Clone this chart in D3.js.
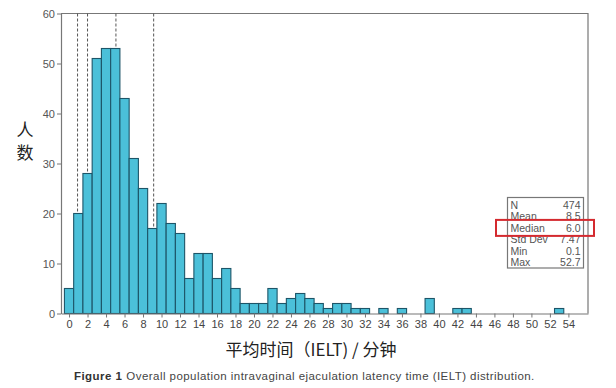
<!DOCTYPE html>
<html>
<head>
<meta charset="utf-8">
<script src="https://cdn.jsdelivr.net/npm/d3@7"></script>
<style>
  html, body { margin: 0; padding: 0; background: #ffffff; }
  svg { display: block; }
</style>
</head>
<body>
<svg id="chart" width="616" height="388"></svg>
<script>
// Histogram bins (minutes, bin centred on the integer) and counts
const bins = [0,1,2,3,4,5,6,7,8,9,10,11,12,13,14,15,16,17,18,19,20,21,22,23,24,25,26,27,28,29,30,31,32,34,36,39,42,43,53];
const counts = [5,20,28,51,53,53,43,31,25,17,22,18,16,7,12,12,7,9,5,2,2,2,5,2,3,4,3,2,1,2,2,1,1,1,1,3,1,1,1];
const xTicks = [0,2,4,6,8,10,12,14,16,18,20,22,24,26,28,30,32,34,36,38,40,42,44,46,48,50,52,54];
const yTicks = [0,10,20,30,40,50,60];
const dashedLines = [0.92, 2.0, 5.07, 9.15];
const statLabels = ["N","Mean","Median","Std Dev","Min","Max"];
const statValues = ["474","8.5","6.0","7.47","0.1","52.7"];
const highlightedStat = "Median";

const svg = d3.select("#chart");
const x = d3.scaleLinear().domain([-0.87, 56.12]).range([61, 588]);
const y = d3.scaleLinear().domain([0, 60]).range([313.5, 13.5]);
const countAt = v => { const i = bins.indexOf(Math.round(v)); return i < 0 ? 0 : counts[i]; };

// frame (top and right)
svg.append("path")
  .attr("d", `M${x.range()[0]},${y(60)}H${x.range()[1]}V${y(0)}`)
  .attr("fill", "none").attr("stroke", "#777").attr("stroke-width", 1.2);

// bars
svg.append("g").selectAll("rect").data(bins).join("rect")
  .attr("x", d => x(d - 0.5))
  .attr("width", d => x(d + 0.5) - x(d - 0.5))
  .attr("y", (d, i) => y(counts[i]))
  .attr("height", (d, i) => y(0) - y(counts[i]))
  .attr("fill", "#4bc0d9")
  .attr("stroke", "#1d5568")
  .attr("stroke-width", 1.1);

// dashed reference lines
svg.append("g").selectAll("line").data(dashedLines).join("line")
  .attr("x1", d => x(d)).attr("x2", d => x(d))
  .attr("y1", y(60)).attr("y2", d => y(countAt(d)))
  .attr("stroke", "#555").attr("stroke-width", 1)
  .attr("stroke-dasharray", "3,2");

// x axis
const xAxis = svg.append("g").attr("transform", `translate(0,${y(0)})`)
  .call(d3.axisBottom(x).tickValues(xTicks).tickSize(4).tickPadding(3).tickSizeOuter(0));
xAxis.select(".domain").attr("stroke", "#777").attr("stroke-width", 1.2);
xAxis.selectAll(".tick line").attr("stroke", "#777");
xAxis.selectAll("text").attr("font-family", "Liberation Sans, Arial, sans-serif")
  .attr("font-size", 11).attr("fill", "#444");

// y axis
const yAxis = svg.append("g").attr("transform", `translate(${x.range()[0]},0)`)
  .call(d3.axisLeft(y).tickValues(yTicks).tickSize(4).tickPadding(2).tickSizeOuter(0));
yAxis.select(".domain").attr("stroke", "#777").attr("stroke-width", 1.2);
yAxis.selectAll(".tick line").attr("stroke", "#777");
yAxis.selectAll("text").attr("font-family", "Liberation Sans, Arial, sans-serif")
  .attr("font-size", 11).attr("fill", "#555");

// y label (vertical stacked characters)
svg.append("text").attr("x", 25).attr("y", 136).attr("text-anchor", "middle")
  .attr("font-family", "Noto Sans CJK SC, sans-serif").attr("font-size", 17).attr("fill", "#222").text("人");
svg.append("text").attr("x", 25).attr("y", 159).attr("text-anchor", "middle")
  .attr("font-family", "Noto Sans CJK SC, sans-serif").attr("font-size", 17).attr("fill", "#222").text("数");

// x title
svg.append("text").attr("x", 311).attr("y", 356).attr("text-anchor", "middle")
  .attr("font-family", "Noto Sans CJK SC, sans-serif").attr("font-size", 17).attr("fill", "#222")
  .text("平均时间（IELT) / 分钟");

// caption
const cap = svg.append("text").attr("x", 74).attr("y", 380)
  .attr("font-family", "Liberation Sans, Arial, sans-serif").attr("font-size", 11.5)
  .attr("letter-spacing", 0.45).attr("fill", "#444");
cap.append("tspan").attr("font-weight", "bold").attr("fill", "#333").text("Figure 1");
cap.append("tspan").attr("dx", 4).text("Overall population intravaginal ejaculation latency time (IELT) distribution.");

// stats box
const boxL = 507.5, boxR = 583.5, boxT = 197.5, boxB = 268;
svg.append("rect").attr("x", boxL).attr("y", boxT).attr("width", boxR - boxL).attr("height", boxB - boxT)
  .attr("fill", "#fff").attr("stroke", "#777").attr("stroke-width", 1.2);
const rowY = i => 205 + i * 11.45;
const sg = svg.append("g").attr("font-family", "Liberation Sans, Arial, sans-serif")
  .attr("font-size", 10.5).attr("fill", "#555");
sg.selectAll("text.l").data(statLabels).join("text").attr("class", "l")
  .attr("x", boxL + 3).attr("y", (d, i) => rowY(i) + 3.8).text(d => d);
sg.selectAll("text.v").data(statValues).join("text").attr("class", "v")
  .attr("x", boxR - 3).attr("y", (d, i) => rowY(i) + 3.8).attr("text-anchor", "end").text(d => d);

// red highlight box
const hi = statLabels.indexOf(highlightedStat);
svg.append("rect").attr("x", 496).attr("y", rowY(hi) - 8).attr("width", 98).attr("height", 16)
  .attr("fill", "none").attr("stroke", "#d42a2f").attr("stroke-width", 2);
</script>
</body>
</html>
